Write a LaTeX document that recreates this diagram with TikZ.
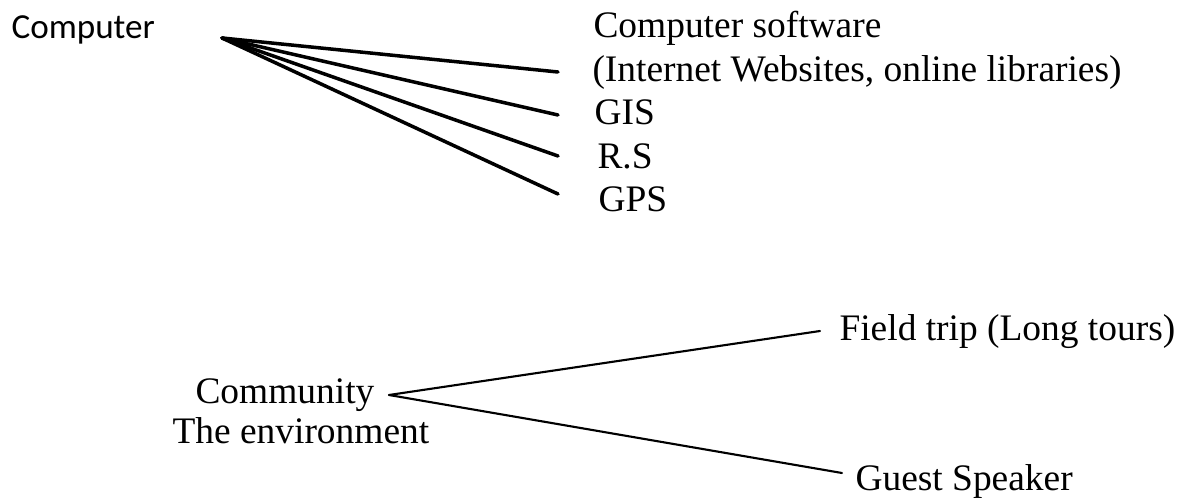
\documentclass[tikz,border=0pt]{standalone}
\usepackage{fontspec}
\setmainfont{Liberation Serif}
\newfontfamily\labelsans{Carlito}
\usetikzlibrary{positioning}

\begin{document}
\begin{tikzpicture}[x=0.02cm,y=-0.02cm,semithick]
	\tikzstyle{item}=[inner sep=0pt,anchor=base west,font=\fontsize{21.3}{25}\selectfont]
	\tikzstyle{head}=[inner sep=0pt,anchor=base west,font=\labelsans\fontsize{20}{24}\selectfont]
	\tikzstyle{fan}=[line width=2pt,line cap=round]
	\tikzstyle{fork}=[line width=1.2pt,line cap=round]
	\useasboundingbox (0,0) rectangle (1194,500);
	
	% computer and its tools
	\node[head] (comp) at (11,39) {Computer};
	\node[item] (soft) at (593,38) {Computer software};
	\node[item] (web) at (592,82) {(Internet Websites, online libraries)};
	\node[item] (gis) at (594,125) {GIS};
	\node[item] (rs) at (597,169) {R.S};
	\node[item] (gps) at (598,212) {GPS};
	
	\coordinate (c0) at (222,38);
	\coordinate (c1) at (558,72);
	\coordinate (c2) at (558,115);
	\coordinate (c3) at (558,156);
	\coordinate (c4) at (558,194);
	
	% community
	\node[item] (comm) at (195,403) {Community};
	\node[item] (env) at (172,443) {The environment};
	\node[item] (trip) at (839,340) {Field trip (Long tours)};
	\node[item] (guest) at (855,490) {Guest Speaker};
	
	\coordinate (m0) at (389,395);
	\coordinate (m1) at (820,331);
	\coordinate (m2) at (842,473);
	
	\path[fan]
	(c0) edge (c1)
	(c0) edge (c2)
	(c0) edge (c3)
	(c0) edge (c4)
	;
	\path[fork]
	(m0) edge (m1)
	(m0) edge (m2)
	;
\end{tikzpicture}
\end{document}
